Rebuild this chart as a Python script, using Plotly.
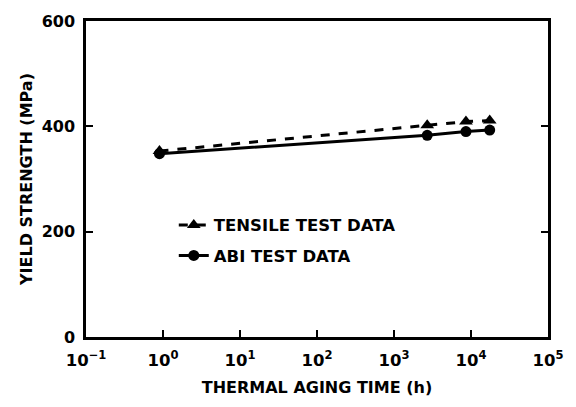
import plotly.graph_objects as go

# Data
tensile_time = [0.9, 2700, 8600, 17500]
tensile_ys = [353, 402, 409, 411]
abi_time = [0.9, 2700, 8600, 17500]
abi_ys = [348, 383, 390, 393]

x_tickvals = [0.1, 1, 10, 100, 1000, 10000, 100000]
x_ticktext = ["<b>10<sup>\u22121</sup></b>", "<b>10<sup>0</sup></b>", "<b>10<sup>1</sup></b>",
              "<b>10<sup>2</sup></b>", "<b>10<sup>3</sup></b>", "<b>10<sup>4</sup></b>",
              "<b>10<sup>5</sup></b>"]
y_tickvals = [0, 200, 400, 600]
y_ticktext = ["<b>0</b>", "<b>200</b>", "<b>400</b>", "<b>600</b>"]

FONT = "DejaVu Sans, Arial, sans-serif"

fig = go.Figure()
fig.add_trace(go.Scatter(
    x=tensile_time, y=tensile_ys, mode="lines+markers", name="<b>TENSILE TEST DATA</b>",
    line=dict(color="black", width=3, dash="dash"),
    marker=dict(symbol="triangle-up", size=12, color="black"),
    legendgroup="a",
))
fig.add_trace(go.Scatter(
    x=abi_time, y=abi_ys, mode="lines+markers", name="<b>ABI TEST DATA</b>",
    line=dict(color="black", width=3),
    marker=dict(symbol="circle", size=11, color="black"),
    legendgroup="b",
))

fig.update_layout(
    width=576, height=407,
    margin=dict(l=86, r=20, t=14, b=69),
    paper_bgcolor="white", plot_bgcolor="white",
    font=dict(family=FONT, color="black", size=15),
    showlegend=True,
    legend=dict(
        x=0.19, y=0.306, xanchor="left", yanchor="middle",
        bgcolor="rgba(0,0,0,0)", font=dict(size=16.5, family=FONT),
        tracegroupgap=6, traceorder="grouped",
    ),
    xaxis=dict(
        type="log", range=[-1, 5],
        tickvals=x_tickvals, ticktext=x_ticktext,
        ticks="inside", ticklen=7, tickwidth=2, tickcolor="black",
        showline=True, linecolor="black", linewidth=2.5, mirror=True,
        showgrid=False, zeroline=False, ticklabelstandoff=6,
        tickfont=dict(size=16.5, family=FONT),
        title=dict(text="<b>THERMAL AGING TIME (h)</b>", standoff=14,
                   font=dict(size=16, family=FONT)),
    ),
    yaxis=dict(
        range=[0, 600], tickvals=y_tickvals, ticktext=y_ticktext,
        ticks="inside", ticklen=7, tickwidth=2, tickcolor="black",
        showline=True, linecolor="black", linewidth=2.5, mirror="ticks",
        showgrid=False, zeroline=False, ticklabelstandoff=5,
        tickfont=dict(size=16, family=FONT),
        title=dict(text="<b>YIELD STRENGTH (MPa)</b>", standoff=6,
                   font=dict(size=16, family=FONT)),
    ),
)

fig.write_html("out.html")
